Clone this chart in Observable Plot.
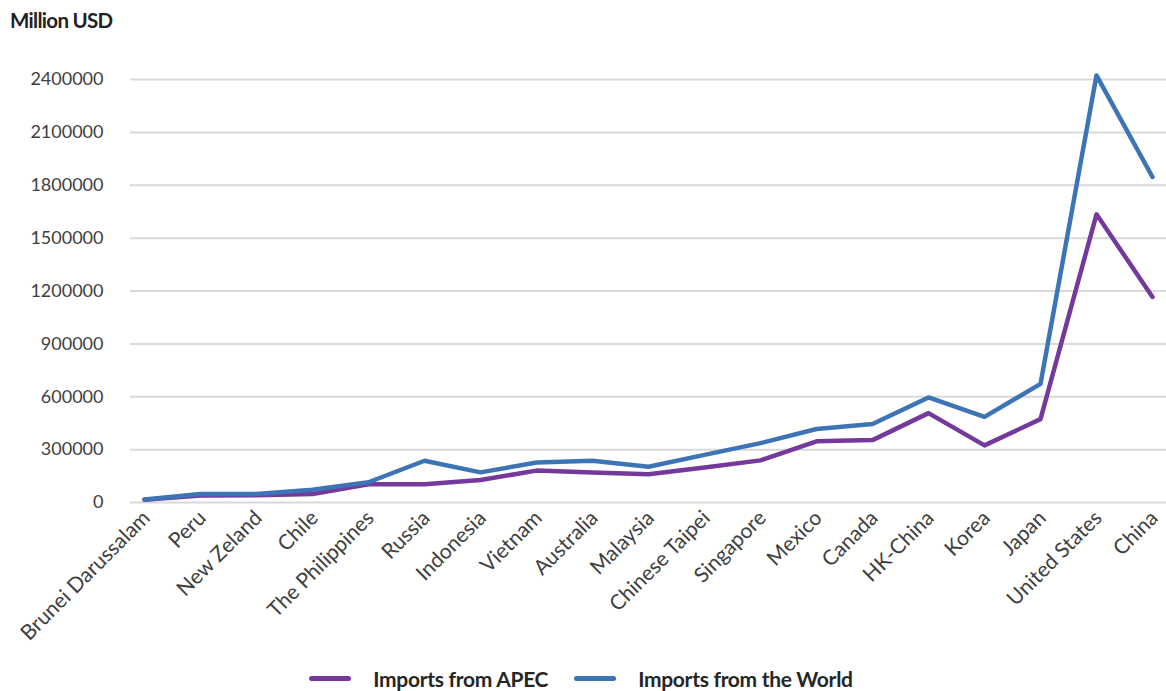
<!DOCTYPE html>
<html>
<head>
<meta charset="utf-8">
<script src="https://cdn.jsdelivr.net/npm/d3@7"></script>
<script src="https://cdn.jsdelivr.net/npm/@observablehq/plot@0.6"></script>
<style>
  body { margin: 0; background: #fff; font-family: Lato, "Open Sans", sans-serif; }
  #wrap { width: 1166px; height: 691px; position: relative; overflow: hidden; }
  #title { position: absolute; left: 10px; top: 8px; font-weight: 700; font-size: 20.5px; color: #222; letter-spacing: -0.7px; }
  #chart { position: absolute; left: 0; top: 40px; }
  #legend { position: absolute; top: 666px; left: 0; width: 1166px; display: flex; justify-content: center; align-items: center; font-weight: 700; font-size: 21px; color: #262626; letter-spacing: -0.3px; }
  .sw { display: inline-block; width: 42px; height: 5px; border-radius: 3px; margin-right: 22px; }
  .item { display: flex; align-items: center; margin: 0 13px; transform: translateX(-2px); }
</style>
</head>
<body>
<div id="wrap">
  <div id="title">Million USD</div>
  <div id="chart"></div>
  <div id="legend"></div>
</div>
<script>
const economies = ["Brunei Darussalam","Peru","New Zeland","Chile","The Philippines","Russia","Indonesia","Vietnam","Australia","Malaysia","Chinese Taipei","Singapore","Mexico","Canada","HK-China","Korea","Japan","United States","China"];
const importsAPEC = [15000,40000,41000,48000,104000,104000,128000,181000,170000,160000,199000,239000,347000,354000,507000,324000,473000,1635000,1166000];
const importsWorld = [17000,48000,48000,72000,115000,237000,171000,227000,237000,203000,270000,337000,417000,445000,596000,486000,673000,2423000,1847000];
const seriesNames = ["Imports from APEC","Imports from the World"];
const seriesColors = ["#74399b","#3d74b5"];
const yTicks = [0,300000,600000,900000,1200000,1500000,1800000,2100000,2400000];

const data = [];
economies.forEach((e,i)=>{
  data.push({economy:e, series:seriesNames[0], value:importsAPEC[i]});
  data.push({economy:e, series:seriesNames[1], value:importsWorld[i]});
});

const chart = Plot.plot({
  width: 1166,
  height: 610,
  marginLeft: 130,
  marginRight: 0,
  marginTop: 39,
  marginBottom: 148,
  style: {fontFamily: "Lato, 'Open Sans', sans-serif", fontSize: "18px", color: "#404040", overflow: "visible"},
  x: {type: "point", domain: economies, padding: 0.16, label: null},
  y: {domain: [0, 2400000], ticks: yTicks, label: null},
  color: {domain: seriesNames, range: seriesColors},
  marks: [
    Plot.gridY(yTicks, {stroke: "#d9d9d9", strokeOpacity: 1, strokeWidth: 2}),
    Plot.axisY(yTicks, {tickSize: 0, tickPadding: 27, tickFormat: d => String(d), fontSize: 18, fill: "#404040"}),
    Plot.axisX({tickSize: 0, tickRotate: -45, tickPadding: 12, fontSize: 21, fill: "#404040", textAnchor: "end", dx: 2}),
    Plot.lineY(data, {x: "economy", y: "value", stroke: "series", strokeWidth: 4.5, strokeLinejoin: "round", strokeLinecap: "round"})
  ]
});
document.getElementById("chart").appendChild(chart);

const legend = document.getElementById("legend");
seriesNames.forEach((n,i)=>{
  const it = document.createElement("div");
  it.className = "item";
  const sw = document.createElement("span");
  sw.className = "sw";
  sw.style.background = seriesColors[i];
  it.appendChild(sw);
  const t = document.createElement("span");
  t.textContent = n;
  it.appendChild(t);
  legend.appendChild(it);
});
</script>
</body>
</html>
